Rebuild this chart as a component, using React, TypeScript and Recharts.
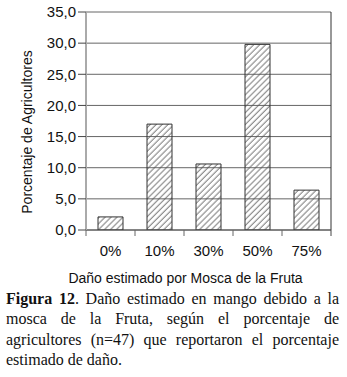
import React from 'react';
import { BarChart, Bar, XAxis, YAxis, CartesianGrid } from 'recharts';

const categories = ['0%', '10%', '30%', '50%', '75%'];
const percentages = [2.1, 17.0, 10.6, 29.8, 6.4];
const yTicks = [0, 5, 10, 15, 20, 25, 30, 35];

const xTitle = 'Daño estimado por Mosca de la Fruta';
const yTitle = 'Porcentaje de Agricultores';
const captionBold = 'Figura 12';
const captionLines = [
  '. Daño estimado en mango debido a la',
  'mosca de la Fruta, según el porcentaje de',
  'agricultores (n=47) que reportaron el porcentaje',
  'estimado de daño.',
];

const data = categories.map((name, i) => ({ name, value: percentages[i] }));

const W = 347;
const H = 290;
const Y_AXIS_W = 86;
const M_RIGHT = 16;
const M_TOP = 12;
const PLOT_BOTTOM = 230;
const BAND = (W - Y_AXIS_W - M_RIGHT) / categories.length;

const sans = '"Liberation Sans", Arial, sans-serif';
const serif = '"Liberation Serif", "Times New Roman", serif';

function XTick(props: any) {
  const { x, payload, index } = props;
  const half = BAND / 2;
  return (
    <g>
      <line x1={x - half} x2={x - half} y1={PLOT_BOTTOM} y2={PLOT_BOTTOM + 6} stroke="#666" />
      {index === categories.length - 1 && (
        <line x1={x + half} x2={x + half} y1={PLOT_BOTTOM} y2={PLOT_BOTTOM + 6} stroke="#444" />
      )}
      <text x={x} y={PLOT_BOTTOM + 26} textAnchor="middle" fontSize={15} fontFamily={sans} fill="#111">
        {payload.value}
      </text>
    </g>
  );
}

function XTitle(props: any) {
  const vb = props.viewBox || { x: Y_AXIS_W, width: W - Y_AXIS_W - M_RIGHT };
  return (
    <text x={vb.x + vb.width / 2 - 23} y={283} textAnchor="middle" fontSize={14} fontFamily={sans} fill="#111">
      {xTitle}
    </text>
  );
}

function YTitle() {
  const cx = 27;
  const cy = 132;
  return (
    <text
      x={cx}
      y={cy}
      transform={`rotate(-90, ${cx}, ${cy})`}
      textAnchor="middle"
      dominantBaseline="central"
      fontSize={14}
      fontFamily={sans}
      fill="#111"
    >
      {yTitle}
    </text>
  );
}

const fmt = (v: number) => v.toFixed(1).replace('.', ',');

export default function App() {
  return (
    <div style={{ position: 'absolute', left: 0, top: 0, width: W, height: 377, background: '#fff' }}>
      <BarChart
        width={W}
        height={H}
        data={data}
        margin={{ top: M_TOP, right: M_RIGHT, bottom: 0, left: 0 }}
        barSize={25}
      >
        <defs>
          <pattern id="hatch" patternUnits="userSpaceOnUse" width="4.2" height="4.2" patternTransform="rotate(45)">
            <line x1="1" y1="0" x2="1" y2="4.2" stroke="#555" strokeWidth="0.8" />
          </pattern>
        </defs>
        <CartesianGrid vertical={false} stroke="#666" />
        <CartesianGrid horizontal={false} verticalPoints={[W - M_RIGHT]} stroke="#333" />
        <XAxis
          dataKey="name"
          height={H - PLOT_BOTTOM}
          tick={<XTick />}
          tickLine={false}
          axisLine={{ stroke: '#555' }}
          interval={0}
          label={<XTitle />}
        />
        <YAxis
          width={Y_AXIS_W}
          domain={[0, 35]}
          ticks={yTicks}
          tickFormatter={fmt}
          tickSize={8}
          tickMargin={2}
          tick={{ fontSize: 15, fontFamily: sans, fill: '#111' }}
          tickLine={{ stroke: '#444' }}
          axisLine={{ stroke: '#aaa', strokeWidth: 2 }}
          label={<YTitle />}
          interval={0}
          allowDataOverflow
        />
        <Bar dataKey="value" fill="url(#hatch)" stroke="#333" strokeWidth={1} isAnimationActive={false} />
      </BarChart>
      <div
        style={{
          position: 'absolute',
          left: 6,
          top: 289,
          width: 333,
          fontFamily: serif,
          fontSize: 16,
          lineHeight: '20.3px',
          color: '#111',
        }}
      >
        {captionLines.map((line, i) => (
          <div
            key={i}
            style={{
              textAlign: 'justify',
              textAlignLast: i < captionLines.length - 1 ? 'justify' : 'left',
              whiteSpace: 'nowrap',
            }}
          >
            {i === 0 && <b>{captionBold}</b>}
            {line}
          </div>
        ))}
      </div>
    </div>
  );
}
